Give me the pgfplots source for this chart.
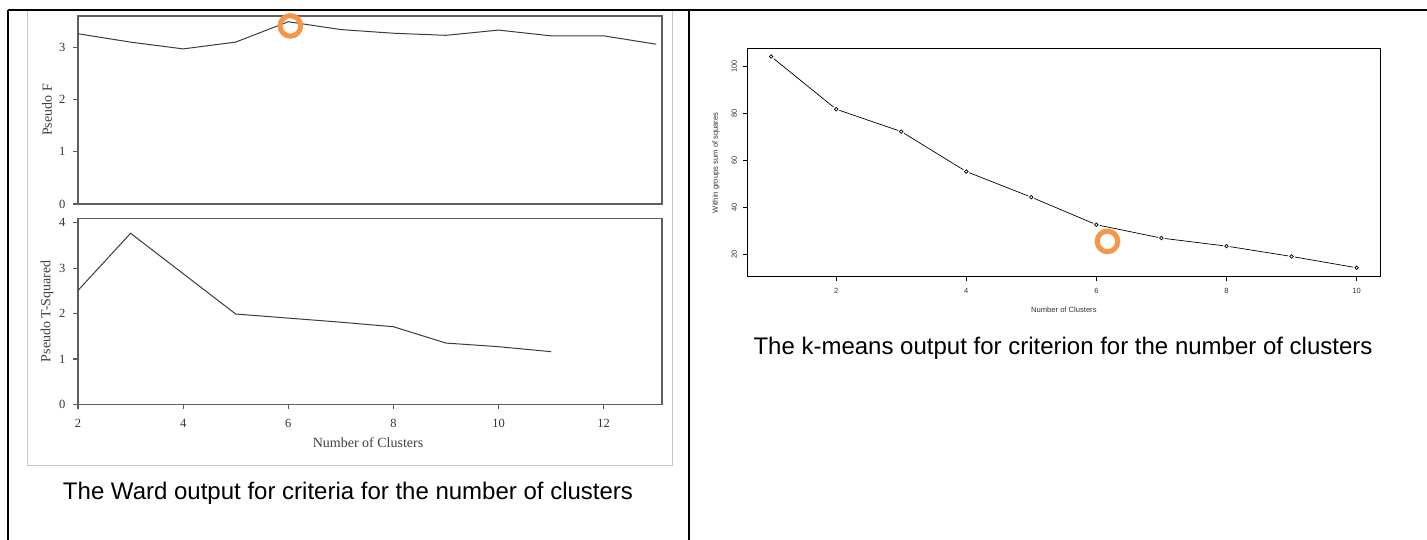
\documentclass[border=0pt]{standalone}
\usepackage{pgfplots}
\pgfplotsset{compat=1.18}
\usepackage{fontspec}
\setmainfont{Liberation Serif}
\newfontfamily\arial{Liberation Sans}
\definecolor{hl}{RGB}{247,150,70}
\definecolor{wardline}{RGB}{60,60,60}
\definecolor{wardframe}{RGB}{95,95,95}
\definecolor{imgframe}{RGB}{200,200,200}

\begin{document}
\begin{tikzpicture}
\path[use as bounding box, fill=white] (0pt,0pt) rectangle (1427pt,-540pt);
% image frame (Ward output)
\draw[imgframe, line width=1pt] (27pt,-10pt) -- (27pt,-465pt) -- (672pt,-465pt) -- (672pt,-10pt);
% table lines
\draw[line width=1.7pt] (8pt,-10pt) -- (1427pt,-10pt);
\draw[line width=1.7pt] (8pt,-10pt) -- (8pt,-540pt);
\draw[line width=1.7pt] (689pt,-10pt) -- (689pt,-540pt);

% ---------- Ward: Pseudo F ----------
\begin{axis}[at={(78pt,-204pt)}, anchor=south west, scale only axis,
  width=584pt, height=188pt,
  xmin=2, xmax=13.11, ymin=0, ymax=3.6,
  xtick=\empty, ytick={0,1,2,3}, tick pos=left, tick align=outside,
  major tick length=5pt,
  axis line style={wardframe, line width=1.2pt},
  major tick style={draw=black!65, line width=1.2pt},
  tick label style={font=\fontsize{12.5}{14}\selectfont, text=black!80},
  yticklabel style={xshift=-4pt},
  /pgf/number format/assume math mode=true,
  ylabel={Pseudo F},
  ylabel style={font=\fontsize{14}{16}\selectfont, text=black!75,
    at={(axis description cs:-0.0531,0.5)}, anchor=center},
  clip=false]
\addplot[wardline, line width=1pt, mark=none] coordinates {
 (2,3.26) (3,3.10) (4,2.97) (5,3.10) (6,3.49) (7,3.34) (8,3.27)
 (9,3.23) (10,3.33) (11,3.22) (12,3.22) (13,3.06)};
\addplot[only marks, mark=o, mark size=10.3pt, hl, line width=5pt] coordinates {(6.04,3.41)};
\end{axis}

% ---------- Ward: Pseudo T-Squared ----------
\begin{axis}[at={(78pt,-404.3pt)}, anchor=south west, scale only axis,
  width=584pt, height=186pt,
  xmin=2, xmax=13.11, ymin=0, ymax=4.1,
  xtick={2,4,6,8,10,12}, ytick={0,1,2,3,4}, tick pos=left, tick align=outside,
  major tick length=5pt,
  axis line style={wardframe, line width=1.2pt},
  major tick style={draw=black!65, line width=1.2pt},
  tick label style={font=\fontsize{12.5}{14}\selectfont, text=black!80},
  yticklabel style={xshift=-4pt},
  xticklabel style={yshift=-6pt},
  /pgf/number format/assume math mode=true,
  ylabel={Pseudo T-Squared},
  ylabel style={font=\fontsize{14}{16}\selectfont, text=black!75,
    at={(axis description cs:-0.0531,0.5)}, anchor=center},
  xlabel={Number of Clusters},
  xlabel style={font=\fontsize{14}{16}\selectfont, text=black!75,
    at={(axis description cs:0.4966,-0.208)}, anchor=center},
  clip=false]
\addplot[wardline, line width=1pt, mark=none] coordinates {
 (2,2.51) (3,3.77) (4,2.88) (5,1.99) (6,1.90) (7,1.81) (8,1.71)
 (9,1.35) (10,1.27) (11,1.16)};
\end{axis}

% ---------- k-means ----------
\begin{axis}[at={(747.7pt,-276.3pt)}, anchor=south west, scale only axis,
  width=632.3pt, height=228pt,
  xmin=0.64, xmax=10.36, ymin=10.66, ymax=107.6,
  xtick={2,4,6,8,10}, ytick={20,40,60,80,100}, tick pos=left, tick align=outside,
  major tick length=4.3pt,
  axis line style={black, line width=0.8pt},
  major tick style={draw=black, line width=0.8pt},
  tick label style={font=\arial\fontsize{7.5}{9}\selectfont, text=black!80},
  xticklabel style={yshift=-4pt},
  yticklabel style={xshift=-3pt, rotate=90, anchor=south},
  /pgf/number format/assume math mode=true,
  xlabel={Number of Clusters},
  xlabel style={font=\arial\fontsize{7.6}{9}\selectfont, text=black!80,
    at={(axis description cs:0.5,-0.148)}, anchor=center},
  ylabel={Within groups sum of squares},
  ylabel style={font=\arial\fontsize{7.6}{9}\selectfont, text=black!80,
    at={(axis description cs:-0.0501,0.498)}, anchor=center},
  clip=false]
\addplot[black, line width=0.7pt, mark=none] coordinates {
 (1,104.1) (2,81.7) (3,72.2) (4,55.2) (5,44.3) (6,32.6) (7,26.9) (8,23.5) (9,19.1) (10,14.3)};
\addplot[only marks, mark=*, white, mark size=3.2pt] coordinates {
 (1,104.1) (2,81.7) (3,72.2) (4,55.2) (5,44.3) (6,32.6) (7,26.9) (8,23.5) (9,19.1) (10,14.3)};
\addplot[only marks, mark=o, black, mark size=1.8pt, line width=0.7pt] coordinates {
 (1,104.1) (2,81.7) (3,72.2) (4,55.2) (5,44.3) (6,32.6) (7,26.9) (8,23.5) (9,19.1) (10,14.3)};
\addplot[only marks, mark=o, mark size=10.3pt, hl, line width=5pt] coordinates {(6.17,25.5)};
\end{axis}

% captions
\node[font=\arial\fontsize{24}{28}\selectfont, anchor=base] at (348pt,-499pt)
  {The Ward output for criteria for the number of clusters};
\node[font=\arial\fontsize{24}{28}\selectfont, anchor=base] at (1063pt,-354pt)
  {The k-means output for criterion for the number of clusters};
\end{tikzpicture}
\end{document}
